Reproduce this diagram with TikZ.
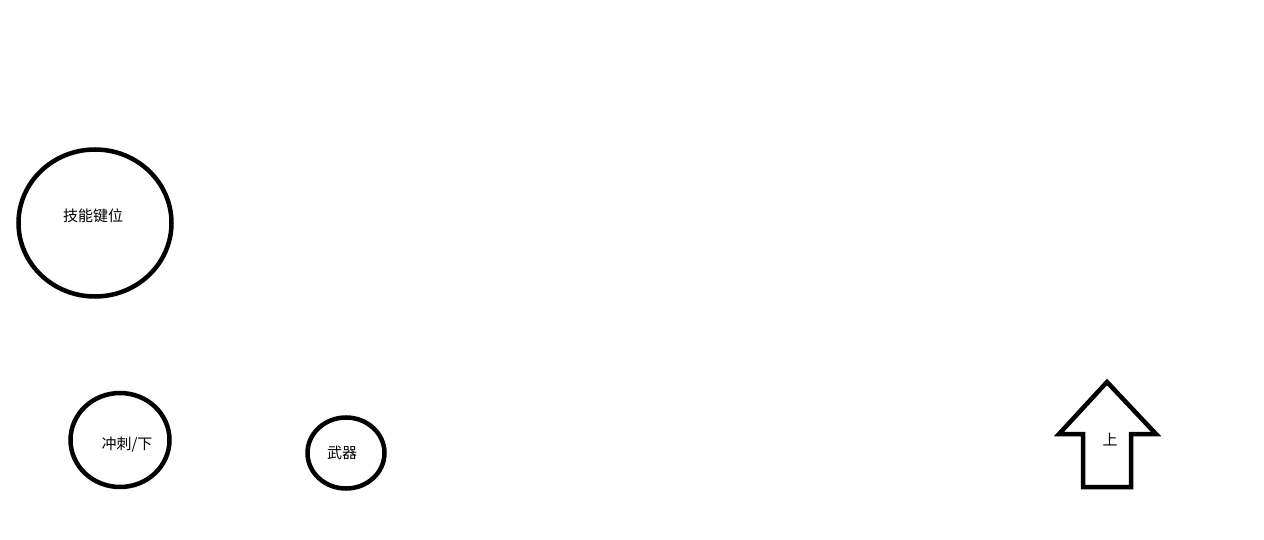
\documentclass[tikz,border=0pt]{standalone}
\usepackage{fontspec}
\newfontfamily\cjk{Noto Sans CJK SC}
\usetikzlibrary{shapes.geometric}
\begin{document}
\begin{tikzpicture}[x=1pt,y=-1pt,
  ring/.style={draw=black,line width=4.5pt,ellipse,inner sep=0pt},
  lbl/.style={font=\cjk\fontsize{15pt}{16pt}\selectfont,inner sep=0pt,text=black}]
\useasboundingbox (0,0) rectangle (1264,540);
\node[ring,minimum width=153pt,minimum height=147pt] (skill) at (95,223) {};
\node[lbl] (skilltxt) at (93,216) {技能键位};
\node[ring,minimum width=99pt,minimum height=94pt] (dash) at (120,440) {};
\node[lbl] (dashtxt) at (127,445) {冲刺/下};
\node[ring,minimum width=77pt,minimum height=71pt] (weapon) at (346,453) {};
\node[lbl] (weapontxt) at (342,453) {武器};
\draw[line width=4.5pt,line join=miter] (1107,382) -- (1156,434) -- (1131,434) -- (1131,487) -- (1083,487) -- (1083,434) -- (1059,434) -- cycle;
\node[lbl] (uptxt) at (1110,440) {上};
\end{tikzpicture}
\end{document}
